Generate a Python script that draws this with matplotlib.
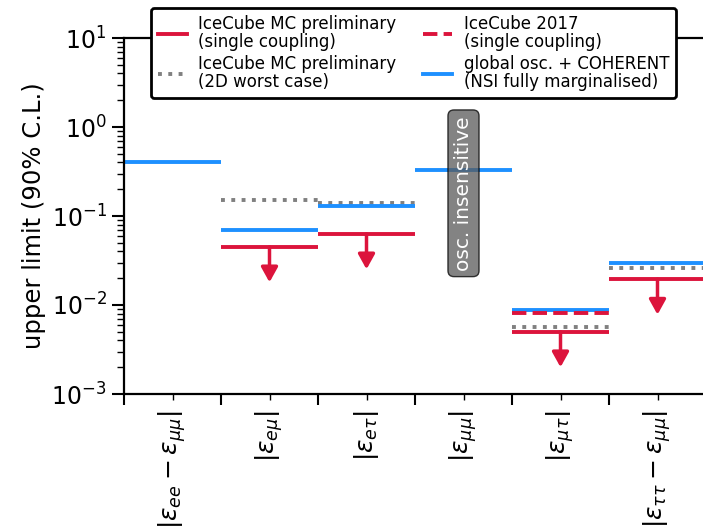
import numpy as np
import matplotlib
matplotlib.use("Agg")
import matplotlib.pyplot as plt
from matplotlib.lines import Line2D

# NSI couplings (one column per category) and 90% C.L. upper limits
labels = [r"$|\varepsilon_{ee} - \varepsilon_{\mu\mu}|$",
          r"$|\varepsilon_{e\mu}|$",
          r"$|\varepsilon_{e\tau}|$",
          r"$|\varepsilon_{\mu\mu}|$",
          r"$|\varepsilon_{\mu\tau}|$",
          r"$|\varepsilon_{\tau\tau} - \varepsilon_{\mu\mu}|$"]
nan = np.nan
mc_single = [nan, 0.045, 0.063, nan, 0.0050, 0.0195]   # IceCube MC prelim, single coupling
mc_2d     = [nan, 0.150, 0.141, nan, 0.0057, 0.0260]   # IceCube MC prelim, 2D worst case
ic2017    = [nan, nan, nan, nan, 0.0081, nan]          # IceCube 2017
global_fit = [0.40, 0.070, 0.130, 0.33, 0.0088, 0.030] # global osc. + COHERENT
ARROW_FRAC = 0.4   # arrow tip = limit * ARROW_FRAC

RED, BLUE, GREY = "crimson", "dodgerblue", "grey"
LW = 2.8

fig = plt.figure(figsize=(7.03, 5.29), dpi=100)
ax = fig.add_axes([124/703, 135/529, 582/703, 356/529])

def seg(vals, **kw):
    for i, v in enumerate(vals):
        if not np.isnan(v):
            ax.plot([i, i + 1], [v, v], solid_capstyle="butt", dash_capstyle="butt", **kw)

seg(mc_2d, color=GREY, lw=LW, ls=":")
seg(global_fit, color=BLUE, lw=LW)
seg(ic2017, color=RED, lw=LW, ls="--")
seg(mc_single, color=RED, lw=LW)

for i, v in enumerate(mc_single):
    if np.isnan(v):
        continue
    ax.annotate("", xy=(i + 0.5, v * ARROW_FRAC), xytext=(i + 0.5, v),
                arrowprops=dict(arrowstyle="-|>,head_width=0.25,head_length=0.45",
                                color=RED, lw=2.5, shrinkA=0, shrinkB=0,
                                mutation_scale=20))

ax.text(3.5, 0.18, "osc. insensitive", rotation=90, ha="center", va="center",
        color="white", fontsize=14.5,
        bbox=dict(boxstyle="round,pad=0.3", fc="#5a5a5a", ec="black", alpha=0.75))

ax.set_yscale("log")
ax.set_ylim(1e-3, 1e1)
ax.set_xlim(0, 6)
ax.set_xticks(np.arange(7))
ax.set_xticklabels([])
ax.set_xticks(np.arange(6) + 0.5, minor=True)
ax.set_xticklabels(labels, minor=True, rotation=90, fontsize=18)
ax.tick_params(axis="x", which="major", length=8, width=1.5)
ax.tick_params(axis="x", which="minor", length=4, width=1.0, pad=7.5)
ax.tick_params(axis="y", which="major", length=9, width=1.5, labelsize=17)
ax.tick_params(axis="y", which="minor", length=5, width=1.0)
for sp in ax.spines.values():
    sp.set_linewidth(1.6)
ax.set_ylabel("upper limit (90% C.L.)", fontsize=17.5)

handles = [Line2D([], [], color=RED, lw=LW),
           Line2D([], [], color=GREY, lw=LW, ls=":"),
           Line2D([], [], color=RED, lw=LW, ls="--"),
           Line2D([], [], color=BLUE, lw=LW)]
names = ["IceCube MC preliminary\n(single coupling)",
         "IceCube MC preliminary\n(2D worst case)",
         "IceCube 2017\n(single coupling)",
         "global osc. + COHERENT\n(NSI fully marginalised)"]
leg = fig.legend(handles, names, ncol=2, loc="upper left",
                 bbox_to_anchor=(151/703, 1 - 8/529), fontsize=12,
                 handlelength=1.75, handletextpad=0.7, labelspacing=0.2,
                 columnspacing=1.6, borderaxespad=0, framealpha=1, fancybox=True)
leg.get_frame().set_edgecolor("black")
leg.get_frame().set_linewidth(2)
for t in leg.get_texts():
    t.set_linespacing(1.05)

fig.savefig("out.png", dpi=100)
